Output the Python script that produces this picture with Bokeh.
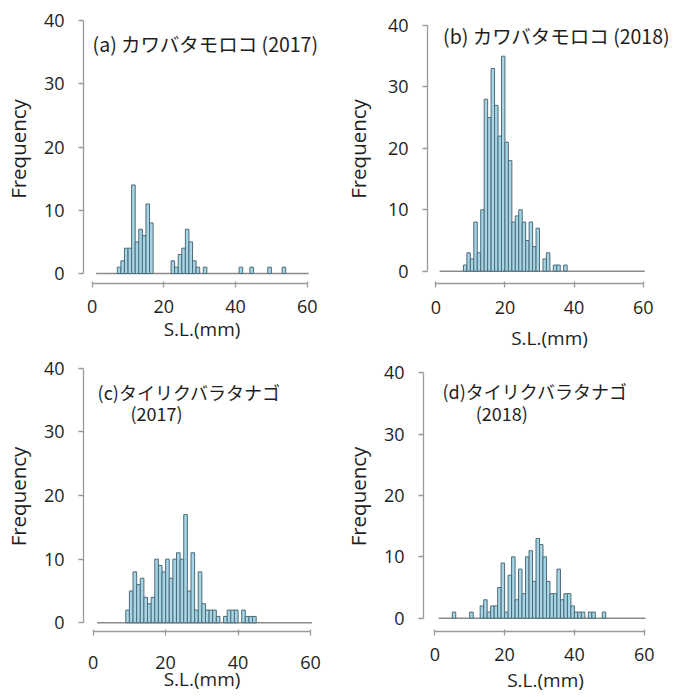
from bokeh.plotting import figure
from bokeh.layouts import column, row
from bokeh.models import Range1d, FixedTicker, Label
from bokeh.embed import file_html
from bokeh.resources import INLINE

# ---------------- data (bin left edge in mm, frequency) ----------------
A_BIN = [7, 8, 9, 10, 11, 12, 13, 14, 15, 16, 22, 23, 24, 25, 26, 27, 28, 29, 31, 41, 44, 49, 53]
A_CNT = [1, 2, 4, 4, 14, 5, 7, 6, 11, 8, 2, 1, 3, 4, 7, 5, 2, 1, 1, 1, 1, 1, 1]

B_BIN = [8, 9, 10, 11, 12, 13, 14, 15, 16, 17, 18, 19, 20, 21, 22, 23, 24, 25, 26, 27, 28, 29,
         31, 32, 34, 35, 37]
B_CNT = [1, 3, 2, 8, 3, 10, 28, 25, 33, 27, 22, 35, 21, 18, 8, 9, 10, 8, 5, 8, 4, 7,
         2, 3, 1, 1, 1]

C_BIN = [9, 10, 11, 12, 13, 14, 15, 16, 17, 18, 19, 20, 21, 22, 23, 24, 25, 26, 27, 28, 29, 30,
         31, 32, 33, 34, 36, 37, 38, 39, 41, 42, 43, 44]
C_CNT = [2, 5, 8, 6, 7, 4, 3, 4, 10, 9, 8, 10, 7, 10, 11, 10, 17, 5, 11, 2, 8, 3,
         2, 2, 2, 1, 1, 2, 2, 2, 2, 1, 1, 1]

D_BIN = [5, 10, 13, 14, 15, 16, 17, 18, 19, 20, 21, 22, 23, 24, 25, 26, 27, 28, 29, 30, 31, 32,
         33, 34, 35, 36, 37, 38, 39, 40, 41, 42, 44, 45, 48]
D_CNT = [1, 1, 2, 3, 1, 2, 2, 5, 9, 1, 7, 10, 3, 8, 4, 10, 11, 6, 13, 12, 10, 6,
         4, 4, 8, 3, 4, 4, 2, 1, 1, 1, 1, 1, 1]

Y_TICKS = [0, 10, 20, 30, 40]
X_TICKS = [0, 20, 40, 60]
BASELINE = (1.1, 60.4)
XLABEL = "S.L.(mm)"
YLABEL = "Frequency"

TITLES = {
    "a": ["(a) カワバタモロコ (2017)"],
    "b": ["(b) カワバタモロコ (2018)"],
    "c": ["(c)タイリクバラタナゴ", "(2017)"],
    "d": ["(d)タイリクバラタナゴ", "(2018)"],
}

FILL = "#a6d5e6"
EDGE = "#4d6b78"
AXIS = "#9a9a9a"
TXT = "#1e1e1e"
NUMFONT = "Open Sans"
JPFONT = "Noto Sans CJK JP"


def panel(bins, cnts, titles, title_pos, title_size, cal, frame, box,
          xstand, xlabstand, ystand, ylabstand):
    x0p, x60p, y0p, y40p = cal
    L, R, T, B = frame
    fl, ft, fw, fh = box
    sx = (x60p - x0p) / 60.0
    sy = (y0p - y40p) / 40.0
    p = figure(frame_width=R - L, frame_height=B - T, output_backend="svg", toolbar_location=None,
               x_range=Range1d((L - x0p) / sx, (R - x0p) / sx),
               y_range=Range1d(-(B - y0p) / sy, (y0p - T) / sy),
               min_border_left=L - fl, min_border_right=fl + fw - R,
               min_border_top=T - ft, min_border_bottom=ft + fh - B,
               title=None)
    p.outline_line_color = None
    p.xgrid.visible = False
    p.ygrid.visible = False
    p.background_fill_color = "white"
    p.border_fill_color = "white"

    p.segment(x0=[BASELINE[0]], y0=[0], x1=[BASELINE[1]], y1=[0], line_color="#8a8a8a", line_width=1.5)
    p.quad(left=bins, right=[b + 1 for b in bins], bottom=[0] * len(bins), top=cnts,
           fill_color=FILL, line_color=EDGE, line_width=1)

    ya = p.yaxis[0]
    ya.ticker = FixedTicker(ticks=Y_TICKS)
    ya.bounds = (0, 40)
    ya.axis_line_color = AXIS
    ya.axis_line_width = 1.3
    ya.major_tick_line_color = AXIS
    ya.major_tick_line_width = 1.3
    ya.major_tick_out = 5
    ya.major_tick_in = 0
    ya.minor_tick_line_color = None
    ya.major_label_text_font = NUMFONT
    ya.major_label_text_font_size = "18px"
    ya.major_label_text_color = TXT
    ya.major_label_standoff = ystand
    ya.axis_label = YLABEL
    ya.axis_label_text_font = NUMFONT
    ya.axis_label_text_font_size = "20.5px"
    ya.axis_label_text_font_style = "normal"
    ya.axis_label_text_color = TXT
    ya.axis_label_standoff = ylabstand

    xa = p.xaxis[0]
    xa.ticker = FixedTicker(ticks=X_TICKS)
    xa.bounds = (0, 60)
    xa.axis_line_color = AXIS
    xa.axis_line_width = 1.3
    xa.major_tick_line_color = AXIS
    xa.major_tick_line_width = 1.3
    xa.major_tick_out = 4
    xa.major_tick_in = 2
    xa.minor_tick_line_color = None
    xa.major_label_text_font = NUMFONT
    xa.major_label_text_font_size = "18px"
    xa.major_label_text_color = TXT
    xa.major_label_standoff = xstand
    xa.axis_label = XLABEL
    xa.axis_label_text_font = NUMFONT
    xa.axis_label_text_font_size = "19px"
    xa.axis_label_text_font_style = "normal"
    xa.axis_label_text_color = TXT
    xa.axis_label_standoff = xlabstand

    for txt, (tx, ty) in zip(titles, title_pos):
        p.add_layout(Label(x=tx, y=ty, text=txt, text_font=JPFONT, text_font_size=title_size,
                           text_color=TXT, text_baseline="middle", text_align="left"))
    return p


# screen layout: row 1 0..356, row 2 356..697 ; col 1 0..340, col 2 340..677
pa = panel(A_BIN, A_CNT, TITLES["a"], [(0.1, 36.4)], "19.5px",
           cal=(91.7, 306.7, 273.0, 20.0), frame=(83, 320, 14, 283), box=(0, 0, 340, 356),
           xstand=12, xlabstand=0, ystand=14, ylabstand=9)
pb = panel(B_BIN, B_CNT, TITLES["b"], [(2.1, 38.4)], "19.5px",
           cal=(429.3, 636.7, 270.7, 25.0), frame=(421, 665, 14, 283), box=(340, 0, 337, 356),
           xstand=13, xlabstand=8, ystand=14, ylabstand=13)
pc = panel(C_BIN, C_CNT, TITLES["c"], [(1.2, 36.3), (10.3, 33.0)], "18px",
           cal=(92.7, 310.0, 622.3, 367.7), frame=(83, 320, 361, 631), box=(0, 356, 340, 341),
           xstand=20, xlabstand=-6, ystand=14, ylabstand=9)
pd = panel(D_BIN, D_CNT, TITLES["d"], [(2.2, 37.1), (11.7, 33.5)], "18px",
           cal=(432.3, 641.7, 617.7, 372.3), frame=(421, 665, 361, 631), box=(340, 356, 337, 341),
           xstand=12, xlabstand=3, ystand=14, ylabstand=9)

layout = column(row(pa, pb, spacing=0), row(pc, pd, spacing=0), spacing=0)

with open("out.html", "w") as f:
    f.write(file_html(layout, INLINE))
